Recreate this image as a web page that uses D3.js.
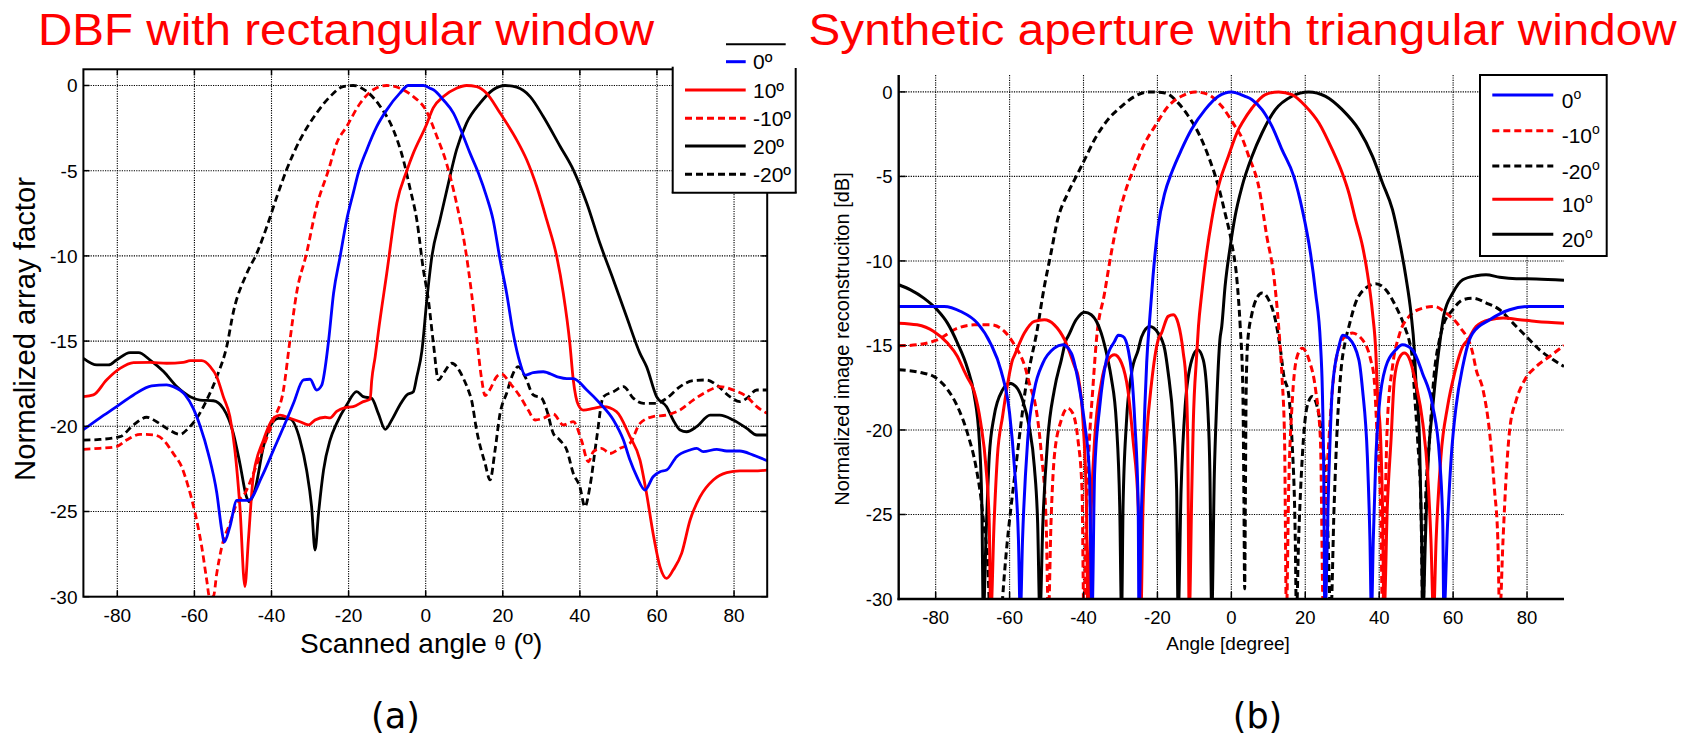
<!DOCTYPE html>
<html><head><meta charset="utf-8">
<script src="https://cdn.jsdelivr.net/npm/d3@7"></script>
<style>
body{margin:0;background:#fff;}
svg{display:block;}
text{font-family:"Liberation Sans",Arial,sans-serif;fill:#000;}
</style>
</head><body>
<svg id="c" width="1696" height="736"></svg>
<script>
// ---------------- DATA ----------------
const titles = ["DBF with rectangular window", "Synthetic aperture with triangular window"];
const xTicks = [-80, -60, -40, -20, 0, 20, 40, 60, 80];
const yTicks = [-30, -25, -20, -15, -10, -5, 0];
const leftYLabel = "Normalized array factor";
const rightYLabel = "Normalized image reconstruciton [dB]";
const rightXLabel = "Angle [degree]";
const panelLabels = ["(a)", "(b)"];

// (a) DBF, rectangular window: [angle deg, dB]
const dbf_0 = [[-88.8,-20.2],[-84.5,-19.5],[-80.2,-18.85],[-75.8,-18.16],[-71.1,-17.63],[-67.2,-17.57],[-65.5,-17.67],[-62.4,-18.16],[-60.3,-18.95],[-58.5,-20.0],[-56.4,-21.6],[-54.2,-23.9],[-52.9,-26.1],[-52.3,-26.8],[-50.8,-25.9],[-49,-24.35],[-46,-24.35],[-42.5,-22.95],[-39.5,-21.4],[-36.1,-19.63],[-34.3,-18.65],[-31.7,-17.28],[-30,-17.24],[-28.3,-17.87],[-27,-17.6],[-25.2,-15.0],[-23.9,-12.19],[-22.2,-10.04],[-20.5,-7.89],[-18.8,-6.32],[-17.5,-5.15],[-15.3,-3.78],[-12.7,-2.41],[-10.1,-1.43],[-6.7,-0.45],[-4.5,0],[-0.6,0],[1.1,-0.16],[2,-0.25],[4.6,-0.85],[7.2,-1.62],[9.8,-2.99],[11.5,-3.97],[13.7,-5.15],[15.8,-6.52],[17.5,-7.89],[19.3,-10.23],[21,-12.19],[22.7,-14.54],[24.5,-16.3],[25.8,-17.0],[27.9,-16.85],[30.5,-16.8],[34,-17.08],[36.6,-17.2],[38.3,-17.2],[41.8,-17.87],[45.2,-18.65],[48.7,-19.63],[51.3,-20.81],[53,-21.98],[54.7,-22.91],[56.9,-23.74],[59,-22.96],[60.8,-22.67],[62.5,-22.57],[65.1,-21.78],[68.6,-21.39],[70.3,-21.29],[72,-21.49],[75.5,-21.35],[78.1,-21.45],[81.5,-21.45],[85,-21.69],[88.6,-22.02]];
const dbf_p10 = [[-88.8,-18.26],[-86.2,-18.16],[-82.8,-17.28],[-79.3,-16.6],[-75.8,-16.26],[-71.5,-16.25],[-67.2,-16.3],[-62.9,-16.25],[-61.1,-16.15],[-58.1,-16.15],[-55.9,-16.5],[-54.2,-17.09],[-52.5,-18.26],[-50.8,-19.43],[-49.5,-21.39],[-48.2,-24.72],[-46.9,-29.4],[-46,-26.68],[-44.7,-22.9],[-42.1,-20.81],[-39.5,-19.53],[-37.8,-19.34],[-35.2,-19.53],[-32.6,-19.73],[-30.4,-19.92],[-28.7,-19.63],[-26.1,-19.47],[-24.8,-19.5],[-23.1,-19.13],[-20.9,-18.91],[-18.8,-18.85],[-16.2,-18.55],[-14.4,-18.4],[-14,-17.3],[-13.1,-15.91],[-12.3,-14.5],[-10.1,-11.02],[-7.5,-6.91],[-4.9,-5.0],[-3.2,-3.97],[0,-2.41],[2,-1.3],[4.6,-0.65],[8,-0.16],[10.6,0],[13.2,-0.06],[15.8,-0.45],[19.3,-1.62],[23.6,-3.19],[26.2,-4.36],[28.8,-5.93],[31.4,-7.89],[34,-10.04],[35.7,-12.19],[37.4,-15.13],[38.3,-17.3],[39.6,-18.75],[40.9,-19.05],[43.5,-18.95],[46.1,-18.85],[49.5,-19.14],[53,-20.61],[55.6,-21.98],[57.3,-23.94],[59,-26.29],[60.8,-28.25],[62.5,-28.93],[64.2,-28.44],[66.4,-27.46],[68.6,-25.5],[71.2,-24.13],[74.6,-23.15],[78.1,-22.72],[81.5,-22.62],[85,-22.62],[88.6,-22.57]];
const dbf_m10 = [[-88.8,-21.35],[-84.5,-21.29],[-80.2,-21.19],[-77.6,-20.81],[-74.1,-20.47],[-70.6,-20.5],[-68,-20.81],[-65.5,-21.59],[-63.3,-22.38],[-61.6,-23.54],[-59.8,-25.11],[-58.1,-27.07],[-56.8,-29.03],[-56.1,-30],[-55.1,-30],[-54.2,-28.63],[-52.9,-27.07],[-50.8,-25.7],[-49,-24.52],[-46.9,-23.94],[-44.7,-22.77],[-42.1,-21.2],[-39.5,-19.63],[-36.9,-17.87],[-35.2,-14.93],[-33.5,-12.19],[-30.9,-9.84],[-28.3,-7.1],[-25.2,-4.95],[-23.1,-3.39],[-20.5,-2.41],[-17,-1.04],[-13.6,-0.25],[-10.1,0],[-6.7,-0.16],[-3.2,-0.65],[0,-1.43],[2.9,-2.99],[5.4,-4.56],[8,-6.91],[10.2,-9.45],[11.9,-12.19],[13.2,-14.74],[14.5,-17.2],[15.4,-18.2],[16.6,-17.87],[18.4,-17.09],[19.7,-16.93],[21.9,-17.48],[24.5,-18.26],[26.6,-19.05],[28.4,-19.63],[30.5,-19.53],[33.1,-19.28],[35.7,-19.92],[38.3,-19.73],[40.4,-20.81],[42.2,-22.08],[43.5,-21.49],[45.6,-21.29],[47.8,-21.59],[50.4,-21.29],[53,-21],[55.6,-19.83],[59,-19.43],[62.5,-19.34],[65.9,-19.05],[69.4,-18.46],[72.9,-17.97],[76.3,-17.67],[79.8,-17.87],[83.3,-18.26],[85.9,-18.85],[88.6,-19.24]];
const dbf_p20 = [[-88.8,-16.01],[-85.3,-16.4],[-82.3,-16.4],[-80.2,-16.11],[-76.7,-15.68],[-74.5,-15.68],[-71.5,-16.11],[-68,-16.79],[-64.6,-17.67],[-61.1,-18.26],[-58.5,-18.46],[-55.1,-18.5],[-52.5,-18.95],[-49.9,-20.41],[-48.2,-22.18],[-46.5,-24.13],[-45.7,-24.43],[-44.3,-23.74],[-42.1,-21.2],[-40.4,-20.02],[-38.2,-19.53],[-35.2,-19.57],[-32.6,-20.81],[-30.9,-22.57],[-29.6,-24.72],[-28.7,-27.26],[-27.8,-25.11],[-26.5,-22.57],[-24.8,-20.81],[-23.1,-19.83],[-20.5,-18.75],[-17.9,-17.97],[-16.2,-18.26],[-14,-18.36],[-12.3,-19.24],[-10.5,-20.18],[-8.8,-19.63],[-6.7,-18.75],[-4.9,-18.16],[-3.2,-17.97],[-2.3,-17.09],[-1,-15.6],[0.3,-12.58],[1.6,-10.04],[3.7,-7.89],[5.9,-5.73],[8,-3.78],[10.6,-2.21],[14.1,-1.04],[17.5,-0.25],[20.6,0],[23.6,-0.1],[27.1,-0.65],[30.5,-1.82],[34.9,-3.58],[38.3,-4.95],[41.8,-6.91],[45.2,-9.26],[48.7,-11.41],[52.1,-13.56],[55.6,-15.72],[57.3,-16.5],[59.9,-18.26],[62.5,-18.85],[64.2,-19.63],[66,-20.22],[67.7,-20.32],[70.3,-20.02],[73.8,-19.34],[76.3,-19.34],[79.8,-19.63],[83.3,-20.12],[85.9,-20.51],[88.6,-20.51]];
const dbf_m20 = [[-88.8,-20.81],[-84.5,-20.77],[-79.3,-20.61],[-75.8,-19.92],[-72.4,-19.47],[-69.8,-19.73],[-67.2,-20.12],[-63.7,-20.47],[-61.6,-20.12],[-59.4,-19.53],[-56.8,-18.46],[-54.2,-17.1],[-51.6,-15.3],[-49.9,-13.3],[-46.4,-11.02],[-43.8,-9.84],[-41.2,-8.28],[-38.6,-6.52],[-36.1,-4.95],[-32.6,-3.19],[-28.3,-1.62],[-24.8,-0.65],[-21.4,-0.06],[-18.8,0],[-15.3,-0.35],[-11.8,-1.23],[-8.4,-2.6],[-5.8,-4.36],[-4.1,-6.0],[-2.3,-7.89],[-0.6,-10.82],[0.7,-12.58],[2,-15.13],[3.3,-17.28],[4.6,-16.89],[6.8,-16.3],[8.9,-16.8],[9.8,-17.2],[11.1,-17.9],[11.9,-18.46],[13.2,-20.22],[15.4,-22.18],[16.7,-23.15],[18,-21.39],[19.3,-19.24],[21,-18.06],[22.7,-16.89],[24,-16.5],[25.8,-17.09],[27.9,-18.16],[30.1,-18.36],[31.4,-19.05],[33.1,-20.41],[34.8,-20.81],[36.6,-21.39],[38.3,-22.77],[40,-23.55],[41.3,-24.72],[42.6,-23.55],[44.3,-20.81],[46.1,-18.26],[48.7,-17.97],[51.3,-17.67],[53.9,-18.36],[56.5,-18.65],[59.9,-18.65],[62.5,-18.36],[66,-17.67],[69.4,-17.32],[72.9,-17.28],[75.5,-17.58],[78.9,-18.26],[81.5,-18.55],[83.3,-18.36],[85.9,-17.87],[88.6,-17.87]];

// (b) Synthetic aperture, triangular window: [angle deg, dB] (nulls fall below -30 and are clipped)
const sa_0 = [[-90,-12.69],[-77.7,-12.69],[-73.2,-12.99],[-68.7,-13.68],[-65.1,-14.9],[-62.3,-16.5],[-60,-19.01],[-58.7,-22.17],[-57.6,-26.51],[-57.1,-31],[-56.5,-26.51],[-55.1,-20.59],[-53.3,-17.63],[-51,-16.05],[-47.9,-15.16],[-45.6,-14.96],[-43.3,-15.46],[-41.5,-17.03],[-39.7,-19.6],[-38.4,-22.56],[-37.7,-31],[-37,-22.56],[-35.6,-18.61],[-33.8,-15.85],[-31.6,-14.76],[-30.6,-14.4],[-29.3,-14.47],[-27.9,-15.26],[-27,-16.6],[-26.1,-19.6],[-25.2,-24.53],[-25,-31],[-24.3,-24.53],[-23.4,-18.61],[-22.9,-16],[-22.1,-13.48],[-21.2,-10.92],[-19.8,-7.96],[-18,-5.98],[-16.2,-4.8],[-13.5,-3.42],[-10.8,-2.23],[-7.1,-1.05],[-3.5,-0.26],[0,0],[3.7,-0.26],[5.6,-0.46],[8.3,-1.05],[9.2,-1.34],[11,-2.04],[13.7,-3.42],[16.9,-5],[19.2,-6.97],[21.4,-9.53],[22.8,-11.9],[24.1,-14.86],[24.6,-17.5],[25,-22.56],[25.3,-31],[26.4,-22.56],[27.3,-17.63],[29.1,-15.06],[30.2,-14.4],[31.8,-14.57],[34.5,-15.85],[35.5,-17.63],[36.8,-21.58],[37.5,-26.51],[37.9,-31],[38.4,-26.51],[39.1,-21.58],[40,-18.61],[41.8,-16.25],[44.5,-15.26],[46.3,-14.96],[49,-15.26],[51.7,-16.64],[54.5,-18.61],[56.3,-21.58],[57.2,-25.53],[57.5,-31],[58.5,-25.53],[59.5,-21.58],[60.8,-18.61],[62.6,-16.25],[64.4,-14.67],[65.3,-14.27],[69.9,-13.48],[75.3,-12.89],[80.7,-12.69],[90,-12.69]];
const sa_m10 = [[-90,-15.02],[-85,-14.96],[-79.6,-14.67],[-74.1,-13.98],[-69.6,-13.78],[-65.1,-13.78],[-61.4,-14.17],[-58.7,-14.96],[-56,-16.15],[-54.2,-17.6],[-53.3,-18.22],[-51.5,-21.18],[-50.1,-25.53],[-49.5,-31],[-48.8,-25.53],[-47.9,-21.58],[-46,-19.4],[-44.3,-18.71],[-42.9,-19.01],[-41.5,-20.59],[-40.4,-23.55],[-39.9,-31],[-39.3,-25.53],[-38.4,-20.59],[-37.5,-17.63],[-36.5,-14.67],[-34.3,-11.9],[-32.5,-9.54],[-30.7,-7.56],[-28.8,-5.98],[-26.1,-4.4],[-23.4,-3.02],[-20.7,-2.04],[-17.1,-0.85],[-13.5,-0.26],[-9.8,0],[-6.2,-0.16],[-2.6,-0.85],[1,-2.04],[2.9,-2.73],[4.7,-3.8],[7.4,-5.6],[9.6,-8.55],[11.5,-10.92],[12.8,-13.88],[13.7,-16.84],[14.4,-20.59],[14.9,-31],[15.5,-23.55],[16.4,-18.61],[17.8,-15.65],[19.2,-15.16],[21,-15.85],[22.8,-17.63],[24.1,-20.59],[24.9,-31],[25.5,-24.53],[26.4,-20.59],[27.8,-16.64],[30,-14.67],[30.9,-14.47],[32.7,-14.27],[35.5,-14.67],[37.7,-15.85],[38.6,-16.9],[39.5,-20.59],[40.4,-24.53],[40.9,-31],[41.6,-24.53],[42.2,-19.6],[43.6,-16.25],[45.4,-14.4],[48.1,-13.28],[51.8,-12.79],[54.9,-12.69],[58.1,-13.09],[61.7,-13.87],[65.3,-15.45],[66.2,-16.4],[68.1,-17.63],[69.9,-20.2],[71.2,-23.55],[72.1,-26.51],[72.6,-31],[73.5,-26.51],[74.4,-22.56],[75.3,-19.99],[77.1,-18.22],[79.4,-17.03],[82.5,-16.25],[86.1,-15.65],[90,-15.0]];
const sa_m20 = [[-90,-16.44],[-84.1,-16.6],[-80.5,-16.84],[-76.8,-17.6],[-74.1,-18.61],[-71.4,-20.19],[-69.1,-22.17],[-67.8,-23.94],[-66.9,-25.72],[-66,-27.5],[-64,-40],[-61.9,-30],[-61,-27.5],[-59.6,-24.53],[-58.3,-22.17],[-56.9,-19.6],[-55.6,-17.43],[-54.2,-15.85],[-52.8,-14.4],[-50.6,-11.51],[-48.8,-9.54],[-47,-7.56],[-44.2,-5.98],[-41.5,-4.8],[-39.7,-4.01],[-37,-2.82],[-33.4,-1.64],[-29.7,-0.85],[-26.1,-0.26],[-22.5,0],[-18,-0.06],[-14.4,-0.65],[-11.6,-1.44],[-8.9,-2.43],[-6.2,-3.81],[-3.5,-5.59],[-1.7,-7.17],[0.1,-8.95],[1.5,-11.1],[2.4,-13.9],[3.1,-17.5],[3.4,-24],[3.6,-29.4],[3.8,-24],[4.0,-17.8],[4.4,-14.86],[5.6,-13.09],[6.9,-12.2],[8.3,-11.9],[10.1,-12.3],[11.9,-13.48],[13.3,-15.26],[14.2,-16.8],[15.5,-17.9],[16.4,-20.59],[17.3,-26.51],[17.6,-31],[18.2,-26.51],[19.2,-21.58],[20.5,-18.61],[21.9,-18.02],[23.2,-18.61],[24.6,-20.59],[25.9,-24.53],[26.9,-31],[27.8,-24.53],[28.7,-19.6],[29.6,-16.64],[30.9,-14.67],[31.8,-13.88],[33.6,-12.49],[36.4,-11.6],[39.1,-11.35],[41.8,-11.71],[44.5,-12.69],[47.2,-14.08],[48.1,-14.7],[49,-15.85],[49.5,-17.63],[50.4,-20.59],[51.3,-24.53],[51.8,-31],[52.5,-24.53],[53.6,-20.59],[54.9,-16.64],[56.3,-14.67],[57.2,-13.88],[59.9,-12.89],[62.6,-12.3],[65.3,-12.2],[69,-12.49],[72.6,-12.89],[76.2,-13.68],[79.8,-14.47],[83.4,-15.26],[87.1,-15.85],[90,-16.25]];
const sa_p10 = [[-90,-13.68],[-85,-13.78],[-80.5,-14.17],[-76.8,-14.86],[-74.1,-15.65],[-72.3,-16.5],[-71.4,-16.9],[-69.6,-17.7],[-67.8,-19.6],[-66.4,-22.17],[-65.5,-25.53],[-65.1,-31],[-64.2,-25.53],[-63.3,-21.58],[-61.9,-19.2],[-60.5,-17.23],[-59.2,-15.85],[-58.7,-15.6],[-56,-14.27],[-53.3,-13.58],[-50.6,-13.48],[-47.9,-13.78],[-45.1,-14.67],[-42.4,-16.25],[-41.5,-16.8],[-40.1,-19.6],[-39.2,-24.53],[-38.8,-31],[-37.9,-24.53],[-37,-20.59],[-35.2,-17.23],[-33.4,-15.85],[-31.6,-15.55],[-29.7,-16.05],[-28,-17.63],[-26.6,-20.59],[-25.2,-24.53],[-24.5,-31],[-23.9,-24.53],[-23,-20.59],[-21.6,-17.23],[-19.8,-14.67],[-18.9,-14.27],[-17.1,-13.28],[-15.7,-13.18],[-14.4,-13.68],[-13,-15.45],[-12.3,-17],[-11.8,-20.59],[-11.4,-31],[-10.7,-23.55],[-10.3,-19.6],[-9.4,-15.65],[-8.9,-13.88],[-8,-11.9],[-6.7,-9.54],[-5.3,-7.56],[-3.5,-5.59],[-0.8,-3.81],[1.9,-2.23],[2.9,-1.84],[5.6,-0.95],[9.2,-0.16],[12.8,0],[16.4,-0.16],[20.1,-0.85],[23.7,-1.84],[27.3,-3.42],[30,-4.8],[31.8,-5.98],[33.6,-7.56],[35.5,-9.14],[36.8,-10.72],[38.2,-13.09],[39.1,-15.45],[39.5,-17.7],[40.4,-20.59],[40.9,-24.53],[41.3,-31],[42.2,-24.53],[43.2,-20.59],[44.1,-17.03],[45.4,-15.75],[46.8,-15.45],[48.1,-15.75],[49.9,-17.23],[51.8,-19.6],[53.1,-22.56],[54,-26.51],[54.7,-31],[55.4,-26.51],[56.7,-21.58],[58.5,-18.61],[60.4,-16.64],[62.6,-15.06],[64,-14.67],[66.2,-13.88],[69.9,-13.48],[73.5,-13.38],[78,-13.48],[82.5,-13.58],[90,-13.68]];
const sa_p20 = [[-90,-11.41],[-86.8,-11.71],[-83.2,-12.2],[-79.6,-12.89],[-76.8,-13.68],[-74.1,-14.86],[-71.4,-16.35],[-69.6,-17.9],[-68.2,-20.59],[-67.5,-24.53],[-67.1,-31],[-66.4,-26.51],[-65.5,-21.58],[-64.2,-19.2],[-61.9,-17.63],[-60,-17.23],[-58.3,-17.43],[-56.5,-18.22],[-54.7,-19.8],[-53.3,-22.17],[-52.4,-25.53],[-51.8,-31],[-51,-25.53],[-49.7,-20.59],[-47.9,-17.63],[-46,-15.85],[-44.7,-14.67],[-44.2,-14.47],[-42,-13.48],[-39.7,-13.03],[-37.9,-13.18],[-35.2,-14.27],[-33.4,-15.85],[-32.5,-16.9],[-31.1,-19.6],[-30.2,-24.53],[-29.7,-31],[-29.3,-24.53],[-28.4,-19.6],[-27,-16.64],[-25.2,-15.26],[-24.3,-14.5],[-22.1,-13.88],[-19.8,-14.27],[-18,-15.26],[-17.1,-16.6],[-15.7,-19.6],[-14.8,-23.55],[-14.4,-31],[-13.6,-23.55],[-12.5,-18.61],[-10.7,-15.85],[-9.1,-15.26],[-7.6,-15.85],[-6.4,-18.61],[-5.8,-22.56],[-5.3,-31],[-4.6,-22.56],[-4,-18.61],[-3.1,-14.67],[-2.6,-13.88],[-1.7,-11.51],[-0.3,-9.14],[1,-7.37],[2.9,-5.59],[5.6,-3.81],[8.3,-2.43],[11.9,-1.05],[16.4,-0.26],[20.9,0],[25.5,-0.26],[30,-1.05],[34.5,-2.23],[38.2,-3.81],[40.9,-5.39],[43.6,-6.97],[45.4,-8.75],[47.2,-10.92],[48.6,-13.09],[49.5,-15.26],[49.9,-17],[50.9,-20.59],[51.5,-26.51],[51.8,-31],[52.5,-26.51],[53.1,-22.56],[54.5,-18.61],[55.8,-15.85],[56.6,-14.5],[57.5,-13.2],[59.9,-11.9],[62.6,-11.11],[66.2,-10.88],[68.9,-10.82],[72.6,-10.96],[77.1,-11.05],[82.5,-11.07],[90,-11.15]];

const leftLegendLabels = ["0º", "10º", "-10º", "20º", "-20º"];
const rightLegendLabels = ["0", "-10", "-20", "10", "20"];

// ---------------- DRAWING ----------------
const BLUE = "#0000ff", RED = "#ff0000", BLACK = "#000000";
const DASH = "7,4";
const svg = d3.select("#c");
const defs = svg.append("defs");

function grid(g, x, y, x0, x1, y0, y1) {
  g.selectAll(".vg").data(xTicks).join("line")
    .attr("x1", d => x(d)).attr("x2", d => x(d)).attr("y1", y0).attr("y2", y1)
    .attr("stroke", "#000").attr("stroke-width", 1.1).attr("stroke-dasharray", "1.2,1.2");
  g.selectAll(".hg").data(yTicks.filter(d => d !== -30)).join("line")
    .attr("x1", x0).attr("x2", x1).attr("y1", d => y(d)).attr("y2", d => y(d))
    .attr("stroke", "#000").attr("stroke-width", 1.1).attr("stroke-dasharray", "1.2,1.2");
}
function curves(g, x, y, clipId, series, width) {
  const line = d3.line().x(d => x(d[0])).y(d => y(d[1])).curve(d3.curveMonotoneX);
  const cg = g.append("g").attr("clip-path", `url(#${clipId})`);
  series.forEach(s => {
    cg.append("path").attr("d", line(s.data)).attr("fill", "none")
      .attr("stroke", s.color).attr("stroke-width", width)
      .attr("stroke-dasharray", s.dash ? DASH : null)
      .attr("stroke-linejoin", "round");
  });
}

// ===== Panel (a) =====
{
  const x = d3.scaleLinear().domain([-88.8, 88.6]).range([83.4, 767.2]);
  const y = d3.scaleLinear().domain([-30, 0.95]).range([596.7, 69.3]);
  const [X0, X1] = x.range(), [Y1, Y0] = y.range();
  defs.append("clipPath").attr("id", "clipA").append("rect")
    .attr("x", X0).attr("y", Y0).attr("width", X1 - X0).attr("height", Y1 - Y0);
  const g = svg.append("g");
  grid(g, x, y, X0, X1, Y0, Y1);
  curves(g, x, y, "clipA", [
    {data: dbf_m20, color: BLACK, dash: true},
    {data: dbf_p20, color: BLACK, dash: false},
    {data: dbf_m10, color: RED, dash: true},
    {data: dbf_p10, color: RED, dash: false},
    {data: dbf_0, color: BLUE, dash: false}
  ], 2.8);
  xTicks.forEach(t => {
    g.append("line").attr("x1", x(t)).attr("x2", x(t)).attr("y1", Y1).attr("y2", Y1 - 6).attr("stroke", "#000").attr("stroke-width", 1.5);
    g.append("line").attr("x1", x(t)).attr("x2", x(t)).attr("y1", Y0).attr("y2", Y0 + 6).attr("stroke", "#000").attr("stroke-width", 1.5);
  });
  yTicks.forEach(t => {
    g.append("line").attr("x1", X0).attr("x2", X0 + 6).attr("y1", y(t)).attr("y2", y(t)).attr("stroke", "#000").attr("stroke-width", 1.5);
    g.append("line").attr("x1", X1).attr("x2", X1 - 6).attr("y1", y(t)).attr("y2", y(t)).attr("stroke", "#000").attr("stroke-width", 1.5);
  });
  g.append("rect").attr("x", X0).attr("y", Y0).attr("width", X1 - X0).attr("height", Y1 - Y0)
    .attr("fill", "none").attr("stroke", "#000").attr("stroke-width", 2);
  g.selectAll(".xl").data(xTicks).join("text").attr("x", d => x(d)).attr("y", 621.7)
    .attr("text-anchor", "middle").attr("font-size", 19).text(d => d);
  g.selectAll(".yl").data(yTicks).join("text").attr("x", 77.5).attr("y", d => y(d)).attr("dy", "0.36em")
    .attr("text-anchor", "end").attr("font-size", 19).text(d => d);
  const xl = g.append("text").attr("x", 300).attr("y", 653).attr("font-size", 28);
  xl.append("tspan").text("Scanned angle ");
  xl.append("tspan").attr("font-size", 20).attr("dy", -3).text("θ");
  xl.append("tspan").attr("dy", 3).text(" (º)");
  g.append("text").attr("transform", "translate(35,329) rotate(-90)").attr("text-anchor", "middle")
    .attr("font-size", 30).attr("textLength", 304).attr("lengthAdjust", "spacingAndGlyphs").text(leftYLabel);
  // legend
  const lg = svg.append("g");
  lg.append("rect").attr("x", 672.7).attr("y", 44).attr("width", 123).attr("height", 148.7).attr("fill", "#fff");
  const seg = (x1, y1, x2, y2, w) => lg.append("line").attr("x1", x1).attr("y1", y1).attr("x2", x2).attr("y2", y2).attr("stroke", "#000").attr("stroke-width", w);
  seg(726, 44.3, 785.7, 44.3, 2);
  seg(672.7, 66.7, 672.7, 192.7, 2);
  seg(795.7, 68, 795.7, 192.7, 2);
  seg(671.7, 192.7, 796.7, 192.7, 2);
  const entries = [
    {lab: leftLegendLabels[0], color: BLUE, dash: false, y: 61.7, x1: 726},
    {lab: leftLegendLabels[1], color: RED, dash: false, y: 90, x1: 685},
    {lab: leftLegendLabels[2], color: RED, dash: true, y: 118.3, x1: 685},
    {lab: leftLegendLabels[3], color: BLACK, dash: false, y: 146, x1: 685},
    {lab: leftLegendLabels[4], color: BLACK, dash: true, y: 174.3, x1: 685}
  ];
  entries.forEach(e => {
    lg.append("line").attr("x1", e.x1).attr("x2", 745.7).attr("y1", e.y).attr("y2", e.y)
      .attr("stroke", e.color).attr("stroke-width", 3).attr("stroke-dasharray", e.dash ? DASH : null);
    lg.append("text").attr("x", 753).attr("y", e.y + 7.5).attr("font-size", 21).text(e.lab);
  });
}

// ===== Panel (b) =====
{
  const x = d3.scaleLinear().domain([-90, 90]).range([898.7, 1564]);
  const y = d3.scaleLinear().domain([-30, 1]).range([599, 75]);
  const [X0, X1] = x.range(), [Y1, Y0] = y.range();
  defs.append("clipPath").attr("id", "clipB").append("rect")
    .attr("x", X0).attr("y", Y0).attr("width", X1 - X0).attr("height", Y1 - Y0);
  const g = svg.append("g");
  grid(g, x, y, X0, X1, Y0, Y1);
  curves(g, x, y, "clipB", [
    {data: sa_m20, color: BLACK, dash: true},
    {data: sa_m10, color: RED, dash: true},
    {data: sa_p20, color: BLACK, dash: false},
    {data: sa_p10, color: RED, dash: false},
    {data: sa_0, color: BLUE, dash: false}
  ], 3);
  xTicks.forEach(t => {
    g.append("line").attr("x1", x(t)).attr("x2", x(t)).attr("y1", Y1).attr("y2", Y1 - 7).attr("stroke", "#000").attr("stroke-width", 1.5);
  });
  yTicks.forEach(t => {
    g.append("line").attr("x1", X0).attr("x2", X0 + 7).attr("y1", y(t)).attr("y2", y(t)).attr("stroke", "#000").attr("stroke-width", 1.5);
  });
  g.append("line").attr("x1", X0).attr("x2", X0).attr("y1", Y0).attr("y2", Y1 + 1.2).attr("stroke", "#000").attr("stroke-width", 2.4);
  g.append("line").attr("x1", X0 - 1.2).attr("x2", X1).attr("y1", Y1).attr("y2", Y1).attr("stroke", "#000").attr("stroke-width", 2.4);
  g.selectAll(".xl").data(xTicks).join("text").attr("x", d => x(d)).attr("y", 624)
    .attr("text-anchor", "middle").attr("font-size", 18.5).text(d => d);
  g.selectAll(".yl").data(yTicks).join("text").attr("x", 892.5).attr("y", d => y(d)).attr("dy", "0.36em")
    .attr("text-anchor", "end").attr("font-size", 18.5).text(d => d);
  g.append("text").attr("x", 1228).attr("y", 650).attr("text-anchor", "middle").attr("font-size", 19).text(rightXLabel);
  g.append("text").attr("transform", "translate(848.5,339) rotate(-90)").attr("text-anchor", "middle")
    .attr("font-size", 20).text(rightYLabel);
  // legend
  const lg = svg.append("g");
  lg.append("rect").attr("x", 1480).attr("y", 75).attr("width", 126.7).attr("height", 181)
    .attr("fill", "#fff").attr("stroke", "#000").attr("stroke-width", 2);
  const ent = [
    {lab: rightLegendLabels[0], color: BLUE, dash: false, y: 95},
    {lab: rightLegendLabels[1], color: RED, dash: true, y: 130.7},
    {lab: rightLegendLabels[2], color: BLACK, dash: true, y: 166},
    {lab: rightLegendLabels[3], color: RED, dash: false, y: 199.3},
    {lab: rightLegendLabels[4], color: BLACK, dash: false, y: 234.3}
  ];
  ent.forEach(e => {
    lg.append("line").attr("x1", 1492.3).attr("x2", 1553.3).attr("y1", e.y).attr("y2", e.y)
      .attr("stroke", e.color).attr("stroke-width", 3).attr("stroke-dasharray", e.dash ? DASH : null);
    const t = lg.append("text").attr("x", 1561.7).attr("y", e.y + 12.5).attr("font-size", 21);
    t.append("tspan").text(e.lab);
    t.append("tspan").attr("font-size", 14).attr("dy", -9).text("o");
  });
}

// titles & panel labels
svg.append("text").attr("x", 38).attr("y", 45).attr("font-size", 45).style("fill", RED)
  .attr("textLength", 616).attr("lengthAdjust", "spacingAndGlyphs").text(titles[0]);
svg.append("text").attr("x", 808.6).attr("y", 45).attr("font-size", 45).style("fill", RED)
  .attr("textLength", 868).attr("lengthAdjust", "spacingAndGlyphs").text(titles[1]);
svg.append("text").attr("x", 395.5).attr("y", 728).attr("text-anchor", "middle")
  .style("font-family", "'DejaVu Sans', sans-serif").attr("font-size", 35).text(panelLabels[0]);
svg.append("text").attr("x", 1257.5).attr("y", 728).attr("text-anchor", "middle")
  .style("font-family", "'DejaVu Sans', sans-serif").attr("font-size", 35).text(panelLabels[1]);
</script>
</body></html>
